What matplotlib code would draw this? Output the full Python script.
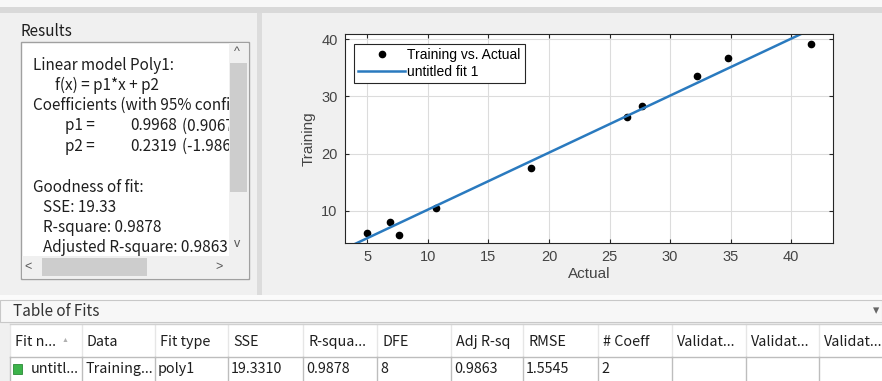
import numpy as np
import matplotlib.pyplot as plt
from matplotlib.patches import Rectangle
from matplotlib.transforms import Bbox, TransformedBbox

# data
actual = [4.93, 6.90, 7.62, 10.70, 18.50, 26.44, 27.71, 32.20, 34.79, 41.64]
training = [6.03, 8.07, 5.74, 10.53, 17.53, 26.35, 28.33, 33.53, 36.68, 39.25]
p1, p2 = 0.9968, 0.2319

x_ticks = [5, 10, 15, 20, 25, 30, 35, 40]
y_ticks = [10, 20, 30, 40]

# Results panel text
coef_names = ["p1 =", "p2 ="]
coef_values = ["0.9968", "0.2319"]
coef_bounds = ["(0.9067, 1.087)", "(-1.986, 2.45)"]
gof_lines = ["SSE: 19.33", "R-square: 0.9878", "Adjusted R-square: 0.9863"]

# Table of Fits
table_headers = ["Fit n...", "Data", "Fit type", "SSE", "R-squa...", "DFE",
                 "Adj R-sq", "RMSE", "# Coeff", "Validat...", "Validat...", "Validat..."]
table_row = ["untitl...", "Training...", "poly1", "19.3310", "0.9878", "8",
             "0.9863", "1.5545", "2", "", "", ""]
col_edges = [10, 82, 155, 228, 303, 377, 451, 523, 598, 672, 746, 819, 890]

gui_font = ['Noto Sans CJK SC', 'DejaVu Sans']
plot_font = ['Liberation Sans', 'DejaVu Sans']
txt_col = '#1e1e1e'

W, H = 882, 381
fig = plt.figure(figsize=(8.82, 3.81), dpi=100)
fig.patch.set_facecolor('#f0f0f0')


def box(x0, y0, x1, y1):
    return [x0 / W, 1 - y1 / H, (x1 - x0) / W, (y1 - y0) / H]


bg = fig.add_axes([0, 0, 1, 1])
bg.set_xlim(0, W)
bg.set_ylim(H, 0)
bg.axis('off')


def rect(x0, y0, x1, y1, fc, ec='none', lw=0.8):
    bg.add_patch(Rectangle((x0, y0), x1 - x0, y1 - y0, facecolor=fc, edgecolor=ec, lw=lw))


# window frame
rect(0, 0, W, 7, '#f8f8f8')
rect(0, 7, W, 13, '#d9d9d9')
rect(257, 13, 262, 297, '#dcdcdc')
rect(0, 295, W, 300, '#fbfbfb')

# Results panel
bg.text(20, 32, "Results", fontsize=11, family=gui_font, color=txt_col, va='center')
rect(21, 42, 249, 279, 'white', ec='#a0a0a0', lw=1)
clip = TransformedBbox(Bbox.from_extents(22, 43, 229, 256), bg.transData)


def rtext(x, y, s):
    t = bg.text(x, y, s, fontsize=11, family=gui_font, color=txt_col, va='center')
    t.set_clip_box(clip)
    t.set_clip_on(True)


rtext(33, 65, "Linear model Poly1:")
rtext(55, 85, "f(x) = p1*x + p2")
rtext(33, 105, "Coefficients (with 95% confid")
for i in range(2):
    y = 126 + i * 20.3
    rtext(65, y, coef_names[i])
    rtext(130, y, coef_values[i])
    rtext(182, y, coef_bounds[i])
rtext(33, 187, "Goodness of fit:")
for i, line in enumerate(gof_lines):
    rtext(43, 207 + i * 20, line)

# scrollbars
rect(229, 43, 248, 256, '#f0f0f0')
rect(230, 63, 247, 192, '#cdcdcd')
rect(22, 256, 248, 278, '#f0f0f0')
rect(42, 258, 147, 276, '#cdcdcd')
bg.text(237, 52, "^", fontsize=9, color='#555555', ha='center', va='center', family=plot_font)
bg.text(237, 244, "v", fontsize=9, color='#555555', ha='center', va='center', family=plot_font)
bg.text(28, 267, "<", fontsize=9, color='#555555', ha='center', va='center', family=plot_font)
bg.text(219, 267, ">", fontsize=9, color='#555555', ha='center', va='center', family=plot_font)

# Table of Fits
rect(0, 300, W, 322, '#f7f7f7', ec='#c8c8c8', lw=0.8)
bg.text(13, 311, "Table of Fits", fontsize=11, family=gui_font, color='#333333', va='center')
bg.text(876, 311, "▾", fontsize=9, family=plot_font, color='#666666', ha='center', va='center')
rect(10, 324, W, 357, 'white')
rect(10, 357, W, H + 2, 'white')
for i, name in enumerate(table_headers):
    x0, x1 = col_edges[i], col_edges[i + 1]
    bg.plot([x0, x0], [324, 357], color='#e6e6e6', lw=1)
    bg.plot([x0, x0], [357, H], color='#bdbdbd', lw=1)
    bg.text(x0 + 5, 342, name, fontsize=10.3, family=gui_font, color=txt_col, va='center')
    val = table_row[i]
    bx = x0 + 3
    if i == 0:
        rect(x0 + 3, 364, x0 + 12, 374, '#3cb34a', ec='#2a8a35', lw=0.6)
        bx = x0 + 21
    if val:
        bg.text(bx, 369, val, fontsize=10.3, family=gui_font, color=txt_col, va='center')
bg.text(65, 341, "▲", fontsize=5, family=plot_font, color='#b0b0b0', ha='center', va='center')
bg.plot([10, W], [357, 357], color='#bdbdbd', lw=1)
bg.plot([10, W], [324, 324], color='#d0d0d0', lw=1)

# fit plot
ax = fig.add_axes(box(344.5, 34, 833, 243))
xlim = (3.1, 43.47)
ylim = (4.35, 40.93)
xs = np.array(xlim)
ax.plot(actual, training, 'o', color='black', markersize=4.5, label='Training vs. Actual')
ax.plot(xs, p1 * xs + p2, color='#2a7abf', lw=1.8, label='untitled fit 1')
ax.set_xlim(xlim)
ax.set_ylim(ylim)
ax.set_xticks(x_ticks)
ax.set_yticks(y_ticks)
ax.grid(color='#dcdcdc', lw=0.8)
ax.set_axisbelow(True)
ax.tick_params(direction='in', length=3, top=True, right=True, labelsize=10.5,
               colors='#262626', labelcolor='#444444', pad=5)
for lab in ax.get_xticklabels() + ax.get_yticklabels():
    lab.set_family(plot_font)
for s in ax.spines.values():
    s.set_color('#262626')
    s.set_linewidth(0.8)
ax.set_xlabel('Actual', fontsize=11, family=plot_font, color='#444444', labelpad=2)
ax.set_ylabel('Training', fontsize=11, family=plot_font, color='#444444', labelpad=4)
leg = ax.legend(loc='upper left', bbox_to_anchor=(0.019, 0.952), fancybox=False,
                edgecolor='#262626', handlelength=3.4, handletextpad=0.15,
                borderpad=0.3, labelspacing=0.2, borderaxespad=0, framealpha=1,
                prop={'family': plot_font, 'size': 10})
leg.get_frame().set_linewidth(0.8)

fig.savefig('out.png', dpi=100, facecolor=fig.get_facecolor())
